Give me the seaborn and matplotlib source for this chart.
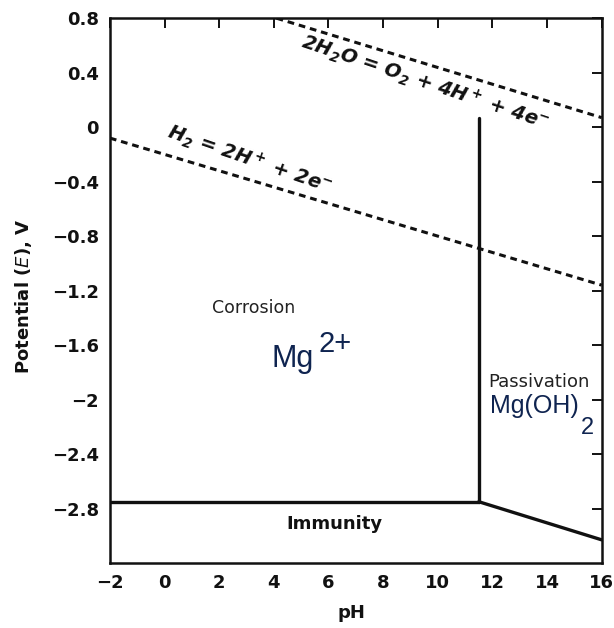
import numpy as np
import pandas as pd
import matplotlib
matplotlib.use("Agg")
import matplotlib.pyplot as plt
import seaborn as sns

sns.set_theme(style="white")
plt.rcParams["font.family"] = ["DejaVu Sans"]
plt.rcParams["mathtext.fontset"] = "dejavusans"
plt.rcParams["mathtext.default"] = "regular"
plt.rcParams["axes.unicode_minus"] = True

# Stability boundaries of the Mg-water system (pH, potential in V)
mg_ion_ph = [-2.0, 11.5]
mg_ion_E = [-2.75, -2.75]
mg_hydroxide_ph = [11.5, 16.0]
mg_hydroxide_E = [-2.75, -3.03]
precip_ph = [11.5, 11.5]
precip_E = [-2.75, 0.07]

# Water stability lines
h2_ph = [-2.0, 16.0]
h2_E = [-0.08, -1.16]
o2_ph = [4.1, 16.0]
o2_E = [0.80, 0.07]

x_ticks = [-2, 0, 2, 4, 6, 8, 10, 12, 14, 16]
y_ticks = [0.8, 0.4, 0, -0.4, -0.8, -1.2, -1.6, -2, -2.4, -2.8]
y_tick_labels = ["0.8", "0.4", "0", "\u22120.4", "\u22120.8", "\u22121.2",
                 "\u22121.6", "\u22122", "\u22122.4", "\u22122.8"]
x_tick_labels = ["\u22122", "0", "2", "4", "6", "8", "10", "12", "14", "16"]

fig = plt.figure(figsize=(6.14, 6.28), dpi=100)
ax = fig.add_axes([0.179, 0.1035, 0.801, 0.8675])

ink = "#111111"
blue = "#0f2450"
solid_kw = dict(color=ink, linewidth=2.4, ax=ax, legend=False,
                estimator=None, sort=False)
dash_kw = dict(color=ink, linewidth=2.2, ax=ax, legend=False,
               estimator=None, sort=False)

for xs, ys in [(mg_ion_ph, mg_ion_E), (mg_hydroxide_ph, mg_hydroxide_E),
               (precip_ph, precip_E)]:
    sns.lineplot(x=xs, y=ys, **solid_kw)

for xs, ys in [(h2_ph, h2_E), (o2_ph, o2_E)]:
    sns.lineplot(x=xs, y=ys, **dash_kw)
    ax.lines[-1].set_linestyle((0, (2.2, 1.6)))

ax.set_xlim(-2, 16)
ax.set_ylim(-3.2, 0.8)
ax.set_xticks(x_ticks)
ax.set_xticklabels(x_tick_labels)
ax.set_yticks(y_ticks)
ax.set_yticklabels(y_tick_labels)

for sp in ax.spines.values():
    sp.set_visible(True)
    sp.set_linewidth(1.8)
    sp.set_color(ink)

ax.tick_params(direction="in", length=7, width=1.4, colors=ink,
               top=True, right=True, labelsize=13, pad=8)
for lab in ax.get_xticklabels() + ax.get_yticklabels():
    lab.set_fontweight("bold")

ax.set_xlabel("pH", fontsize=13, fontweight="bold", color=ink)
ax.set_ylabel(r"Potential ($\mathit{E}$), V", fontsize=13,
              fontweight="bold", color=ink)
ax.xaxis.set_label_coords(0.492, -0.075)
ax.yaxis.set_label_coords(-0.155, 0.49)

# Reaction labels along the water lines
ax.text(9.55, 0.33, r"2H$_2$O = O$_2$ + 4H$^+$ + 4e$^{-}$", rotation=-18.5,
        ha="center", va="center", fontsize=14, fontstyle="italic",
        fontweight="bold", color=ink, rotation_mode="anchor")
ax.text(3.1, -0.24, r"H$_2$ = 2H$^+$ + 2e$^{-}$", rotation=-19,
        ha="center", va="center", fontsize=14, fontstyle="italic",
        fontweight="bold", color=ink, rotation_mode="anchor")

# Region labels
ax.text(3.25, -1.33, "Corrosion", ha="center", va="center", fontsize=12.5,
        color="#222222")
ax.text(3.93, -1.758, "Mg", ha="left", va="baseline", fontsize=22,
        family="Liberation Sans", color=blue)
ax.text(5.62, -1.648, "2+", ha="left", va="baseline", fontsize=21,
        family="Liberation Sans", color=blue)
ax.text(13.71, -1.868, "Passivation", ha="center", va="center",
        fontsize=13, color="#222222")
ax.text(11.92, -2.095, "Mg(OH)", ha="left", va="baseline", fontsize=18,
        family="Liberation Sans", color=blue)
ax.text(15.22, -2.256, "2", ha="left", va="baseline", fontsize=17,
        family="Liberation Sans", color=blue)
ax.text(6.2, -2.91, "Immunity", ha="center", va="center", fontsize=13,
        fontweight="bold", color=ink)

fig.savefig("out.png", dpi=100, facecolor="white")
